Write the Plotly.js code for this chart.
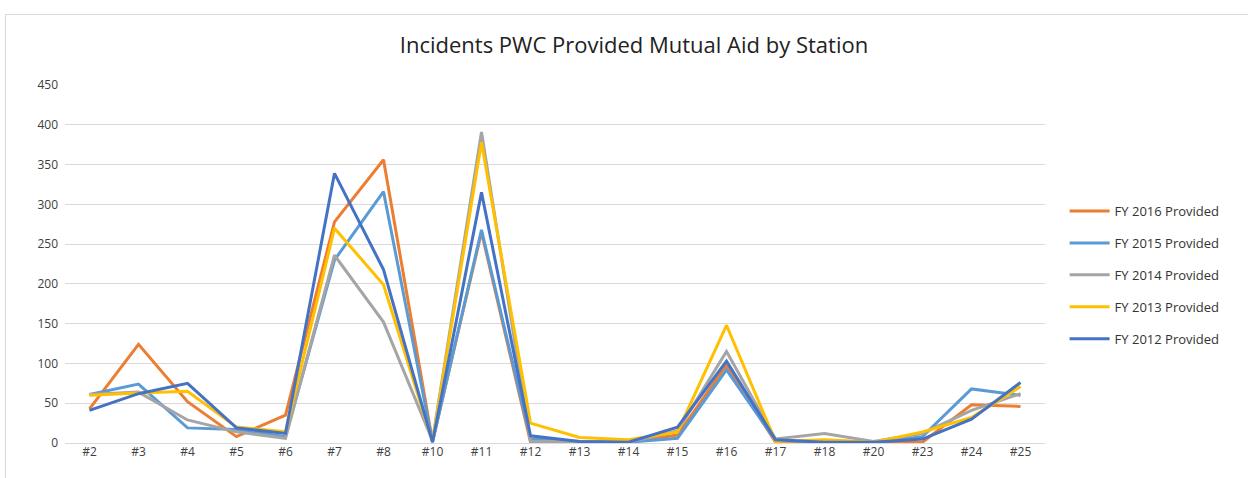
<!DOCTYPE html>
<html>
<head>
<meta charset="utf-8">
<script src="https://cdn.plot.ly/plotly-3.0.1.min.js"></script>
<style>
html,body{margin:0;padding:0;background:#fff;}
#frame{position:absolute;left:5px;top:14px;width:1260px;height:480px;border:1px solid #d9d9d9;box-sizing:border-box;pointer-events:none;z-index:5;}
#chart{position:absolute;left:0;top:0;width:1248px;height:478px;}
</style>
</head>
<body>
<div id="chart"></div>
<div id="frame"></div>
<script>
const stations = ["#2","#3","#4","#5","#6","#7","#8","#10","#11","#12","#13","#14","#15","#16","#17","#18","#20","#23","#24","#25"];
const fy2016 = [43,124,52,8,35,278,356,2,265,1,1,1,10,98,1,3,1,1,48,46];
const fy2015 = [61,74,19,17,8,230,316,1,268,5,2,1,6,92,3,2,1,8,68,60];
const fy2014 = [61,64,29,14,6,236,152,3,391,2,2,1,15,115,5,12,2,12,41,62];
const fy2013 = [60,63,65,20,14,270,199,2,378,25,7,4,14,148,2,4,1,14,32,71];
const fy2012 = [41,62,75,19,12,339,218,1,315,9,2,1,20,103,4,1,1,5,30,76];

const seriesNames = ["FY 2016 Provided","FY 2015 Provided","FY 2014 Provided","FY 2013 Provided","FY 2012 Provided"];
const seriesData = [fy2016, fy2015, fy2014, fy2013, fy2012];
const colors = ["#ED7D31","#5B9BD5","#A5A5A5","#FFC000","#4472C4"];

const traces = seriesData.map((d,i)=>({
  type:'scatter', mode:'lines', x:stations, y:d, name:seriesNames[i],
  legendgroup:'g'+i,
  line:{color:colors[i], width:3},
  hoverinfo:'x+y+name'
}));

const layout = {
  width:1248, height:478,
  margin:{l:65, r:203, t:85, b:35},
  paper_bgcolor:'#fff', plot_bgcolor:'#fff',
  font:{family:'"Open Sans", "Noto Sans", sans-serif', color:'#595959', size:12},
  title:{text:'Incidents PWC Provided Mutual Aid by Station', x:0.508, xanchor:'center', y:0.905, yanchor:'middle',
         font:{family:'"Open Sans", sans-serif', size:22, color:'#222'}},
  xaxis:{type:'category', showgrid:false, zeroline:false, showline:false, ticks:'',
         tickfont:{size:12, color:'#404040'}, range:[-0.5,19.5], fixedrange:true},
  yaxis:{range:[0,450], dtick:50, showgrid:true, gridcolor:'#d9d9d9', gridwidth:1,
         zeroline:true, zerolinecolor:'#d9d9d9', zerolinewidth:1, showline:false, ticks:'',
         tickfont:{size:12, color:'#404040'}, ticklabelstandoff:6, fixedrange:true},
  showlegend:true,
  legend:{x:1.02, xanchor:'left', y:0.469, yanchor:'middle', traceorder:'grouped',
          tracegroupgap:12, font:{size:13, color:'#333'}, itemwidth:40, bgcolor:'rgba(0,0,0,0)'}
};

Plotly.newPlot('chart', traces, layout, {displayModeBar:false, staticPlot:true});
</script>
</body>
</html>
